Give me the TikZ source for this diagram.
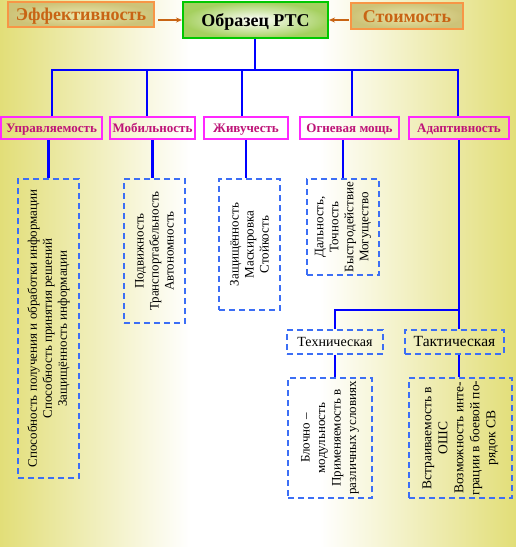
\documentclass[tikz,border=0pt]{standalone}
\usepackage{fontspec}
\setmainfont{Liberation Serif}
\usetikzlibrary{arrows.meta}
\definecolor{bgY}{RGB}{226,222,120}
\definecolor{lineB}{RGB}{0,0,255}
\definecolor{dashB}{RGB}{60,110,245}
\definecolor{mag}{RGB}{255,40,255}
\definecolor{magT}{RGB}{190,20,120}
\definecolor{orB}{RGB}{247,150,70}
\definecolor{orT}{RGB}{200,100,20}
\definecolor{khakiO}{RGB}{205,195,120}
\definecolor{khakiI}{RGB}{235,230,170}
\definecolor{grB}{RGB}{0,200,0}
\definecolor{grO}{RGB}{165,208,95}
\tikzset{
  topbox/.style={draw=orB, line width=1.8pt, inner color=khakiI, outer color=khakiO,
    font=\fontsize{18}{20}\selectfont\bfseries, text=orT, inner sep=0pt,
    text height=12pt, text depth=0pt},
  mainbox/.style={draw=grB, line width=2pt, inner color=white, outer color=grO,
    font=\fontsize{18}{20}\selectfont\bfseries, text=black, inner sep=0pt,
    text height=12pt, text depth=0pt},
  catbox/.style={draw=mag, line width=1.8pt, font=\fontsize{13}{15}\selectfont\bfseries,
    text=magT, minimum height=22pt, inner sep=0pt, text height=8.7pt, text depth=0pt},
  dbox/.style={draw=dashB, line width=1.6pt, dash pattern=on 6pt off 4pt, inner sep=0pt},
  hbox/.style={dbox, minimum height=24pt, text height=9.8pt, text depth=0pt},
  vtext/.style={rotate=90, align=center, font=\fontsize{13}{15}\selectfont, inner sep=0pt},
  conn/.style={draw=lineB, line width=2.5pt},
  oarrow/.style={draw=orT, line width=1.5pt, -{Stealth[length=6pt,width=5pt]}}
}
\begin{document}
\begin{tikzpicture}[x=1pt,y=-1pt]
\useasboundingbox (0,0) rectangle (516,547);
% background
\shade[left color=bgY, right color=white] (0,0) rectangle (190,547);
\fill[white] (190,0) rectangle (320,547);
\shade[left color=white, right color=bgY] (320,0) rectangle (516,547);

% top
\node[topbox, minimum width=146pt, minimum height=25pt] (eff) at (81,14.5) {Эффективность};
\node[mainbox, minimum width=145pt, minimum height=36pt] (obr) at (255.5,20) {Образец РТС};
\node[topbox, minimum width=112pt, minimum height=26pt] (cost) at (407,16) {Стоимость};
\draw[oarrow] ([xshift=3pt]eff.east |- obr.center) -- (obr.west);
\draw[oarrow] ([xshift=-1pt]cost.west |- obr.center) -- (obr.east);

% categories
\node[catbox, minimum width=101pt] (upr) at (51.5,128) {Управляемость};
\node[catbox, minimum width=85pt] (mob) at (152.5,128) {Мобильность};
\node[catbox, minimum width=84pt] (ziv) at (246,128) {Живучесть};
\node[catbox, minimum width=99pt] (ogn) at (349.5,128) {Огневая мощь};
\node[catbox, minimum width=100pt] (ada) at (459,128) {Адаптивность};

% dashed boxes
\node[dbox, minimum width=61pt, minimum height=299pt] (b1) at (48.5,328.5) {};
\node[vtext] at (b1) {Способность получения и обработки информации\\Способность принятия решений\\Защищённость информации};
\node[dbox, minimum width=61pt, minimum height=144pt] (b2) at (154.5,251) {};
\node[vtext] at (b2) {Подвижность\\Транспортабельность\\Автономность};
\node[dbox, minimum width=61pt, minimum height=131pt] (b3) at (249.5,244.5) {};
\node[vtext] at (b3) {Защищённость\\Маскировка\\Стойкость};
\node[dbox, minimum width=72pt, minimum height=96pt] (b4) at (343,227) {};
\node[vtext] at (b4) {Дальность,\\Точность\\Быстродействие\\Могущество};

\node[hbox, minimum width=96pt, font=\fontsize{14}{16}\selectfont] (tech) at (335,342) {Техническая};
\node[hbox, minimum width=99pt, font=\fontsize{15.5}{17}\selectfont] (tact) at (454.5,342) {Тактическая};

\node[dbox, minimum width=84pt, minimum height=120pt] (b5) at (330,438) {};
\node[vtext, font=\fontsize{13}{15.5}\selectfont] at (b5) {Блочно –\\модульность\\Применяемость в\\различных условиях};
\node[dbox, minimum width=103pt, minimum height=120pt] (b6) at (460.5,438) {};
\node[vtext, font=\fontsize{13.5}{16}\selectfont] at (b6) {Встраиваемость в\\ОШС\\Возможность инте-\\грации в боевой по-\\рядок СВ};

% connectors
\coordinate (hub) at (255,70);
\coordinate (barL) at (52,70);
\coordinate (barR) at (458,70);
\coordinate (jm) at (147,70);
\coordinate (jz) at (242,70);
\coordinate (jo) at (352,70);
\draw[conn] (obr.south -| hub) -- (hub);
\draw[conn] (barL |- upr.north) -- (barL) -- (barR) -- (barR |- ada.north);
\draw[conn] (jm) -- (jm |- mob.north);
\draw[conn] (jz) -- (jz |- ziv.north);
\draw[conn] (jo) -- (jo |- ogn.north);

\draw[conn] (b1.north |- upr.south) -- (b1.north);
\draw[conn] ([xshift=-2pt]b2.north |- mob.south) -- ([xshift=-2pt]b2.north);
\draw[conn] (ziv.south) -- (ziv.south |- b3.north);
\draw[conn] (b4.north |- ogn.south) -- (b4.north);
\draw[conn] (ada.south) -- (ada.south |- tact.north);
\coordinate (br) at (459,310);
\draw[conn] (br) -- (br -| tech.north) -- (tech.north);
\draw[conn] (tech.south) -- (tech.south |- b5.north);
\draw[conn] ([xshift=-1.5pt]b6.north |- tact.south) -- ([xshift=-1.5pt]b6.north);
\end{tikzpicture}
\end{document}
